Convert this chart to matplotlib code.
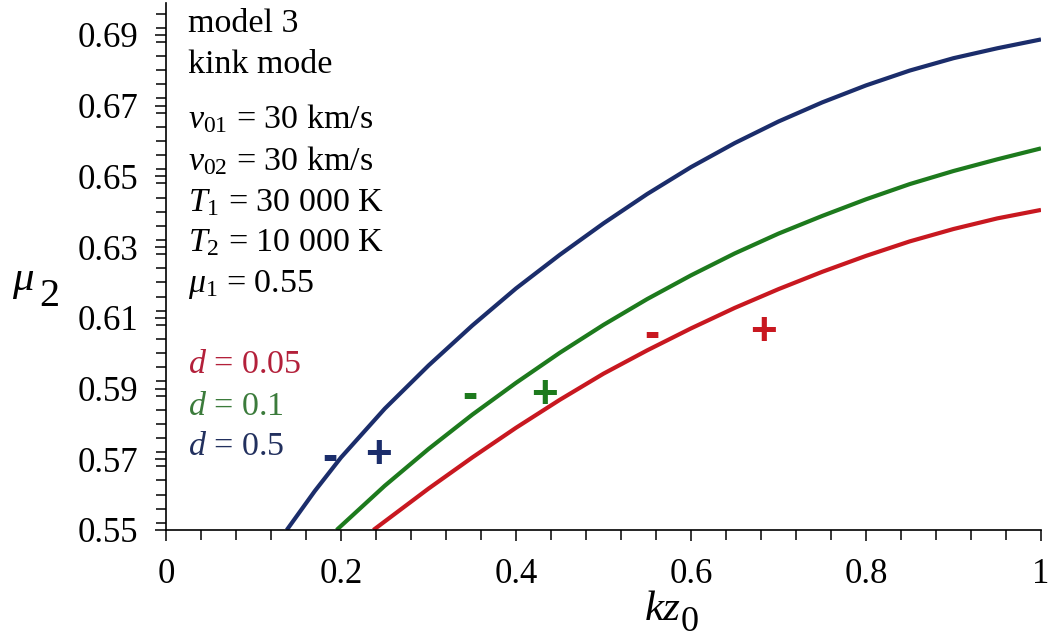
import numpy as np
import matplotlib
matplotlib.use("Agg")
import matplotlib.pyplot as plt
from matplotlib.ticker import MultipleLocator, FixedLocator, FixedFormatter

plt.rcParams['font.family'] = ['Liberation Serif', 'DejaVu Serif']
plt.rcParams['mathtext.fontset'] = 'custom'
plt.rcParams['mathtext.rm'] = 'Liberation Serif'
plt.rcParams['mathtext.it'] = 'Liberation Serif:italic'

# curves (kz0, mu2)
kz_blue = [0.138, 0.17, 0.2, 0.25, 0.3, 0.35, 0.4, 0.45, 0.5, 0.55,
           0.6, 0.65, 0.7, 0.75, 0.8, 0.85, 0.9, 0.95, 1.0]
mu_blue = [0.5500, 0.5610, 0.5705, 0.5843, 0.5965, 0.6078, 0.6183, 0.6278, 0.6367, 0.6450,
           0.6526, 0.6594, 0.6655, 0.6709, 0.6757, 0.6799, 0.6834, 0.6862, 0.6887]

kz_green = [0.195, 0.25, 0.3, 0.35, 0.4, 0.45, 0.5, 0.55, 0.6,
            0.65, 0.7, 0.75, 0.8, 0.85, 0.9, 0.95, 1.0]
mu_green = [0.5500, 0.5625, 0.5729, 0.5826, 0.5916, 0.6001, 0.6080, 0.6153, 0.6220,
            0.6282, 0.6338, 0.6388, 0.6435, 0.6478, 0.6515, 0.6548, 0.6579]

kz_red = [0.237, 0.3, 0.35, 0.4, 0.45, 0.5, 0.55, 0.6,
          0.65, 0.7, 0.75, 0.8, 0.85, 0.9, 0.95, 1.0]
mu_red = [0.5500, 0.5617, 0.5705, 0.5789, 0.5868, 0.5942, 0.6008, 0.6070,
          0.6128, 0.6181, 0.6230, 0.6275, 0.6316, 0.6351, 0.6381, 0.6405]

# sign markers: (symbol, kz0, mu2, colour key)
signs = [('-', 0.1874, 0.5713, 'blue'), ('+', 0.2423, 0.5718, 'blue'),
         ('-', 0.3474, 0.5889, 'green'), ('+', 0.4331, 0.5889, 'green'),
         ('-', 0.5554, 0.6061, 'red'), ('+', 0.6834, 0.6067, 'red')]

x_ticks = [0, 0.2, 0.4, 0.6, 0.8, 1.0]
x_labels = ['0', '0.2', '0.4', '0.6', '0.8', '1']
y_ticks = [0.55, 0.57, 0.59, 0.61, 0.63, 0.65, 0.67, 0.69]

col = {'blue': '#1b2d6b', 'green': '#1d7a1d', 'red': '#c81820'}
txtcol = {'blue': '#22305e', 'green': '#3b7b3b', 'red': '#b3203a'}

W, H = 1051, 638
fig = plt.figure(figsize=(W / 100, H / 100), dpi=100)
ax = fig.add_axes([166 / W, 1 - 530 / H, (1041 - 166) / W, (530 - 3) / H])

ax.plot(kz_blue, mu_blue, color=col['blue'], lw=3.0, solid_capstyle='butt')
ax.plot(kz_green, mu_green, color=col['green'], lw=3.0, solid_capstyle='butt')
ax.plot(kz_red, mu_red, color=col['red'], lw=3.0, solid_capstyle='butt')

for s, x, y, c in signs:
    ax.annotate(s, (x, y), xytext=(0, -11), textcoords='offset points',
                ha='center', va='baseline', fontsize=33, fontweight='bold',
                family='Liberation Sans', color=col[c])

ax.set_xlim(0, 1)
ax.set_ylim(0.55, 0.699)
for sp in ['top', 'right']:
    ax.spines[sp].set_visible(False)
for sp in ['left', 'bottom']:
    ax.spines[sp].set_linewidth(1.2)

ax.xaxis.set_major_locator(FixedLocator(x_ticks))
ax.xaxis.set_major_formatter(FixedFormatter(x_labels))
ax.xaxis.set_minor_locator(MultipleLocator(0.04))
ax.yaxis.set_major_locator(FixedLocator(y_ticks))
ax.yaxis.set_major_formatter(FixedFormatter(['%.2f' % v for v in y_ticks]))
ax.yaxis.set_minor_locator(MultipleLocator(0.004))
ax.tick_params(which='both', direction='out', width=1.1, labelsize=25, pad=12)
ax.tick_params(which='major', length=8)
ax.tick_params(which='minor', length=7)

def ft(px, py, s, **kw):
    fig.text(px / W, 1 - py / H, s, va='baseline', ha='left', **kw)

fs = 24.5
ft(188, 32, 'model 3', fontsize=fs)
ft(188, 73, 'kink mode', fontsize=fs)
ft(188, 128, r'$v_{01}$ = 30 km/s', fontsize=fs)
ft(188, 170, r'$v_{02}$ = 30 km/s', fontsize=fs)
ft(188, 211, r'$T_1$ = 30 000 K', fontsize=fs)
ft(188, 251, r'$T_2$ = 10 000 K', fontsize=fs)
ft(188, 292, r'$\mu_1$ = 0.55', fontsize=fs)
ft(188, 373, r'$d$ = 0.05', fontsize=fs, color=txtcol['red'])
ft(188, 415, r'$d$ = 0.1', fontsize=fs, color=txtcol['green'])
ft(188, 455, r'$d$ = 0.5', fontsize=fs, color=txtcol['blue'])

# axis labels
ft(12, 290, 'μ', fontsize=31, fontstyle='italic')
ft(39, 306, '2', fontsize=29)
ft(645, 620, 'kz', fontsize=31, fontstyle='italic')
ft(681, 631, '0', fontsize=26)

fig.savefig('out.png', dpi=100)
